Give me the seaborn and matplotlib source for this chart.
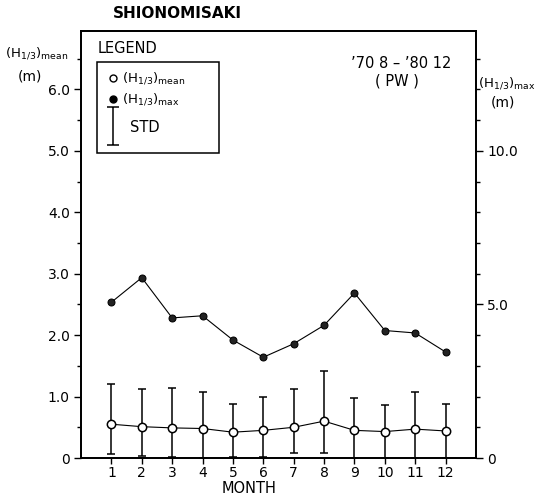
import numpy as np
import pandas as pd
import matplotlib
matplotlib.use("Agg")
import matplotlib.pyplot as plt
from matplotlib.patches import Rectangle
from matplotlib.path import Path
import seaborn as sns

# values
months = [1, 2, 3, 4, 5, 6, 7, 8, 9, 10, 11, 12]
h_mean = [0.55, 0.51, 0.49, 0.48, 0.42, 0.45, 0.50, 0.60, 0.45, 0.43, 0.47, 0.44]
std_top = [1.21, 1.13, 1.14, 1.08, 0.88, 0.99, 1.12, 1.42, 0.97, 0.87, 1.07, 0.88]
std_bottom = [0.06, 0.03, 0.02, 0.0, 0.01, 0.02, 0.08, 0.08, 0.0, 0.0, 0.0, 0.0]
h_max = [5.07, 5.87, 4.56, 4.63, 3.84, 3.28, 3.72, 4.32, 5.37, 4.15, 4.07, 3.45]

left_ticks = [0, 1, 2, 3, 4, 5, 6]
left_labels = ["0", "1.0", "2.0", "3.0", "4.0", "5.0", "6.0"]
right_ticks = [0, 5, 10]
right_labels = ["0", "5.0", "10.0"]

df = pd.DataFrame({"month": months, "mean": h_mean, "max": h_max})

sns.set_style("ticks")
plt.rcParams["font.family"] = ["DejaVu Sans"]
plt.rcParams["mathtext.default"] = "regular"
plt.rcParams["text.color"] = "black"
plt.rcParams["axes.labelcolor"] = "black"
plt.rcParams["axes.edgecolor"] = "black"
plt.rcParams["xtick.color"] = "black"
plt.rcParams["ytick.color"] = "black"

fig = plt.figure(figsize=(5.44, 5.01), dpi=100)
ax = fig.add_axes([81 / 544, 1 - 458 / 501, 395 / 544, 427 / 501])
ax2 = ax.twinx()

# std bars on the mean
lo = np.array(h_mean) - np.array(std_bottom)
hi = np.array(std_top) - np.array(h_mean)
ax.errorbar(months, h_mean, yerr=[lo, hi], fmt="none", ecolor="black",
            elinewidth=1.1, capsize=3, capthick=1.1, zorder=2)
sns.lineplot(data=df, x="month", y="mean", ax=ax, color="black", lw=0.8,
             marker="o", markersize=6, markerfacecolor="white",
             markeredgecolor="black", markeredgewidth=1.1, zorder=3)
sns.lineplot(data=df, x="month", y="max", ax=ax2, color="black", lw=0.8,
             marker="o", markersize=5, markerfacecolor="#222222",
             markeredgecolor="black", zorder=3)

ax.set_xlim(0, 13)
ax.set_ylim(0, 6.95)
ax2.set_ylim(0, 13.9)

ax.set_xticks(months)
ax.set_xticklabels([str(m) for m in months], fontsize=10)
ax.set_yticks(left_ticks)
ax.set_yticklabels(left_labels, fontsize=10)
ax.set_yticks(np.arange(0.5, 6.95, 1.0), minor=True)
ax2.set_yticks(right_ticks)
ax2.set_yticklabels(right_labels, fontsize=10)
ax2.set_yticks([1, 2, 3, 4, 6, 7, 8, 9, 11, 12, 13], minor=True)

ax.tick_params(axis="y", which="major", direction="out", length=5, width=1, pad=3)
ax.tick_params(axis="x", which="major", direction="out", length=4, width=1, pad=1.5)
ax.tick_params(axis="y", which="minor", direction="out", length=3, width=1)
ax2.tick_params(axis="y", which="major", direction="out", length=5, width=1, pad=3)
ax2.tick_params(axis="y", which="minor", direction="out", length=3, width=1)

for a in (ax, ax2):
    for s in a.spines.values():
        s.set_visible(True)
        s.set_linewidth(1.3)
    a.set_ylabel("")
ax.set_xlabel("MONTH", fontsize=10.5)
ax.xaxis.set_label_coords(0.425, -0.055)

# axis titles
fig.text(5 / 544, 1 - 53 / 501, "(H$_{1/3}$)$_{mean}$", fontsize=9.5,
         ha="left", va="center")
fig.text(30 / 544, 1 - 76 / 501, "(m)", fontsize=10, ha="center", va="center")
fig.text(478 / 544, 1 - 83 / 501, "(H$_{1/3}$)$_{max}$", fontsize=9.5,
         ha="left", va="center")
fig.text(503 / 544, 1 - 103 / 501, "(m)", fontsize=10, ha="center", va="center")

fig.text(113 / 544, 1 - 14 / 501, "SHIONOMISAKI", fontsize=11,
         fontweight="bold", ha="left", va="center")
ax.text(0.81, 0.923, "\u201970 8 \u2013 \u201980 12", transform=ax.transAxes,
        fontsize=10.5, ha="center", va="center")
ax.text(0.80, 0.882, "( PW )", transform=ax.transAxes,
        fontsize=10.5, ha="center", va="center")

# hand drawn style legend
ax.text(0.041, 0.958, "LEGEND", transform=ax.transAxes, fontsize=10.5,
        ha="left", va="center")
ax.add_patch(Rectangle((0.041, 0.714), 0.308, 0.213, transform=ax.transAxes,
                       fill=False, edgecolor="black", lw=1.1, zorder=5))
ax.plot([0.081], [0.890], transform=ax.transAxes, marker="o", markersize=5,
        markerfacecolor="white", markeredgecolor="black", ls="none", clip_on=False)
ax.plot([0.081], [0.841], transform=ax.transAxes, marker="o", markersize=5,
        markerfacecolor="black", markeredgecolor="black", ls="none", clip_on=False)
ax.text(0.104, 0.890, "(H$_{1/3}$)$_{mean}$", transform=ax.transAxes,
        fontsize=9.5, ha="left", va="center")
ax.text(0.104, 0.841, "(H$_{1/3}$)$_{max}$", transform=ax.transAxes,
        fontsize=9.5, ha="left", va="center")
ibeam = Path([(-0.3, 1), (0.3, 1), (0, 1), (0, -1), (-0.3, -1), (0.3, -1)],
             [Path.MOVETO, Path.LINETO, Path.MOVETO, Path.LINETO,
              Path.MOVETO, Path.LINETO])
ax.plot([0.081], [0.778], transform=ax.transAxes, marker=ibeam, markersize=28,
        markeredgecolor="black", markeredgewidth=1.1, ls="none", clip_on=False)
ax.text(0.124, 0.773, "STD", transform=ax.transAxes, fontsize=10.5,
        ha="left", va="center")

fig.savefig("out.png", dpi=100)
